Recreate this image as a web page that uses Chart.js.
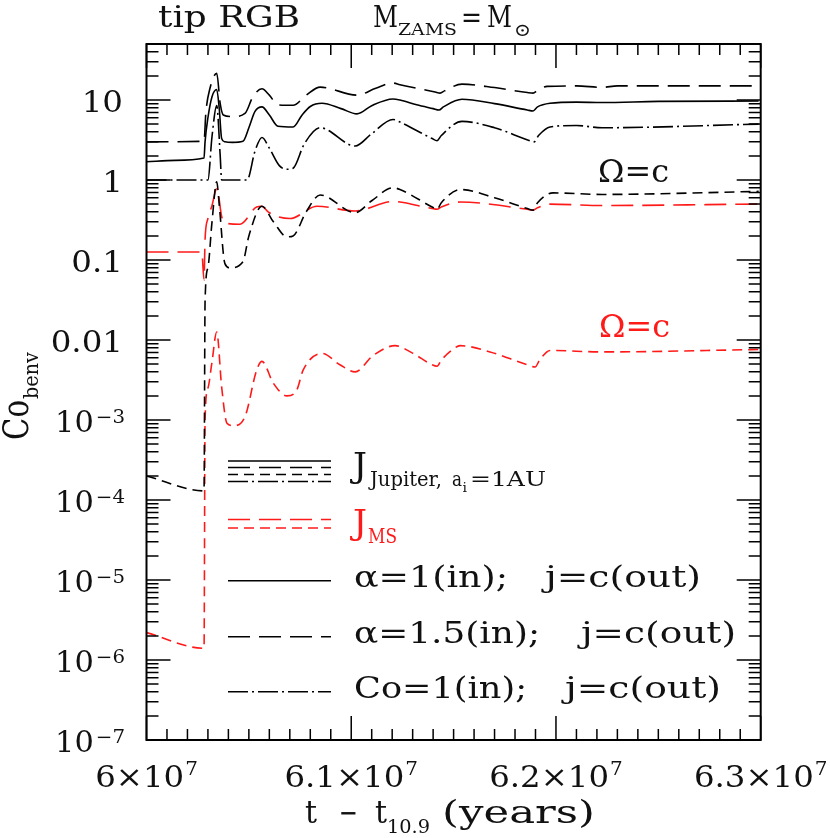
<!DOCTYPE html>
<html>
<head>
<meta charset="utf-8">
<script src="https://cdn.jsdelivr.net/npm/chart.js@4.4.1/dist/chart.umd.min.js"></script>
<style>
  html, body { margin: 0; padding: 0; background: #fff; }
  #wrap { width: 830px; height: 838px; }
</style>
</head>
<body>
<div id="wrap"><canvas id="chart" width="830" height="838"></canvas></div>
<script>
// axis ranges and tick labels
const X_MIN = 6.0e7, X_MAX = 6.3e7;
const Y_MIN = 1e-7, Y_MAX = Math.pow(10, 1.7);
const xTickValues = [6.0e7, 6.1e7, 6.2e7, 6.3e7];
const xTickLabels = ['6', '6.1', '6.2', '6.3'];
const yTickValues = [1e-7, 1e-6, 1e-5, 1e-4, 1e-3, 0.01, 0.1, 1, 10];
const yTickLabels = [['10', '\u22127'], ['10', '\u22126'], ['10', '\u22125'], ['10', '\u22124'], ['10', '\u22123'],
                     ['0.01', ''], ['0.1', ''], ['1', ''], ['10', '']];

// J_Jupiter, alpha=1 (solid)
const tJupA1 = [6.0000e7, 6.0140e7, 6.0281e7, 6.0286e7, 6.0300e7, 6.0320e7, 6.0343e7, 6.0355e7, 6.0367e7, 6.0383e7,
                6.0420e7, 6.0471e7, 6.0500e7, 6.0530e7, 6.0564e7, 6.0600e7, 6.0642e7, 6.0716e7, 6.0760e7, 6.0800e7,
                6.0857e7, 6.0950e7, 6.1028e7, 6.1100e7, 6.1204e7, 6.1238e7, 6.1320e7, 6.1400e7, 6.1429e7, 6.1450e7,
                6.1541e7, 6.1700e7, 6.1860e7, 6.1888e7, 6.1910e7, 6.1971e7, 6.2100e7, 6.2225e7, 6.2500e7, 6.2990e7];
const jupA1 = [1.69, 1.76, 1.88, 3.0, 6.0, 11.0, 13.5, 8.0, 3.3, 3.0,
               2.95, 3.05, 4.5, 7.2, 8.2, 6.5, 4.7, 4.6, 6.5, 8.3,
               9.1, 7.8, 6.7, 8.5, 10.3, 10.0, 8.7, 7.8, 7.5, 8.2,
               10.2, 9.0, 7.5, 7.3, 8.2, 9.1, 9.4, 9.3, 9.6, 9.7];

// J_Jupiter, alpha=1.5 (long dash)
const tJupA15 = [6.0000e7, 6.0281e7, 6.0290e7, 6.0310e7, 6.0343e7, 6.0360e7, 6.0375e7, 6.0420e7, 6.0481e7, 6.0520e7,
                 6.0564e7, 6.0600e7, 6.0642e7, 6.0716e7, 6.0780e7, 6.0848e7, 6.1028e7, 6.1120e7, 6.1204e7, 6.1238e7,
                 6.1410e7, 6.1434e7, 6.1455e7, 6.1541e7, 6.1700e7, 6.1860e7, 6.1888e7, 6.1910e7, 6.1957e7, 6.2100e7,
                 6.2225e7, 6.2300e7, 6.2990e7];
const jupA15 = [3.0, 3.05, 7.0, 14.0, 21.5, 9.0, 6.5, 6.2, 6.8, 11.0,
                13.8, 11.5, 8.7, 8.6, 11.5, 14.5, 11.5, 14.0, 16.3, 15.5,
                12.6, 12.2, 13.0, 15.8, 14.3, 12.4, 12.2, 13.2, 14.8, 15.0,
                14.4, 15.0, 15.0];

// J_Jupiter, Co=1 (dash-dot)
const tJupCo = [6.0000e7, 6.0300e7, 6.0320e7, 6.0343e7, 6.0360e7, 6.0367e7, 6.0491e7, 6.0530e7, 6.0564e7, 6.0600e7,
                6.0650e7, 6.0686e7, 6.0716e7, 6.0770e7, 6.0848e7, 6.1019e7, 6.1100e7, 6.1204e7, 6.1238e7, 6.1395e7,
                6.1419e7, 6.1440e7, 6.1541e7, 6.1700e7, 6.1865e7, 6.1893e7, 6.1915e7, 6.1971e7, 6.2100e7, 6.2225e7,
                6.2990e7];
const jupCo = [1.0, 1.0, 3.5, 8.5, 2.0, 1.0, 1.0, 2.3, 3.4, 2.5,
               1.5, 1.36, 1.4, 2.8, 4.5, 2.66, 3.8, 5.7, 5.3, 3.3,
               3.1, 3.6, 5.4, 4.5, 3.15, 3.0, 3.6, 4.6, 4.8, 4.5,
               5.0];

// J_Jupiter, Omega=c (short dash)
const tJupOmega = [6.0000e7, 6.0281e7, 6.0286e7, 6.0300e7, 6.0320e7, 6.0343e7, 6.0355e7, 6.0383e7, 6.0408e7, 6.0471e7,
                   6.0500e7, 6.0564e7, 6.0620e7, 6.0686e7, 6.0716e7, 6.0780e7, 6.0848e7, 6.1019e7, 6.1100e7, 6.1204e7,
                   6.1238e7, 6.1395e7, 6.1419e7, 6.1440e7, 6.1532e7, 6.1700e7, 6.1860e7, 6.1888e7, 6.1910e7, 6.1986e7,
                   6.2225e7, 6.2990e7];
const jupOmega = [2.0e-4, 1.3e-4, 0.03, 0.08, 0.3, 0.95, 0.5, 0.09, 0.08, 0.095,
                  0.2, 0.47, 0.3, 0.195, 0.2, 0.4, 0.65, 0.39, 0.55, 0.8,
                  0.76, 0.46, 0.43, 0.52, 0.76, 0.6, 0.44, 0.42, 0.52, 0.69,
                  0.66, 0.72];

// J_MS, alpha=1.5 (red long dash)
const tMsA15 = [6.0000e7, 6.0270e7, 6.0281e7, 6.0286e7, 6.0300e7, 6.0319e7, 6.0344e7, 6.0367e7, 6.0383e7, 6.0457e7,
                6.0538e7, 6.0563e7, 6.0594e7, 6.0638e7, 6.0701e7, 6.0833e7, 6.1019e7, 6.1204e7, 6.1238e7, 6.1395e7,
                6.1419e7, 6.1440e7, 6.1532e7, 6.1860e7, 6.1888e7, 6.1910e7, 6.1971e7, 6.2225e7, 6.2990e7];
const msA15 = [0.126, 0.126, 0.056, 0.18, 0.33, 0.47, 0.79, 0.35, 0.29, 0.28,
               0.46, 0.47, 0.40, 0.35, 0.33, 0.47, 0.41, 0.54, 0.53, 0.44,
               0.43, 0.46, 0.53, 0.43, 0.42, 0.45, 0.50, 0.48, 0.50];

// J_MS, Omega=c (red short dash)
const tMsOmega = [6.0000e7, 6.0281e7, 6.0286e7, 6.0300e7, 6.0319e7, 6.0343e7, 6.0367e7, 6.0393e7, 6.0423e7, 6.0481e7,
                  6.0538e7, 6.0564e7, 6.0619e7, 6.0686e7, 6.0735e7, 6.0765e7, 6.0857e7, 6.0945e7, 6.1019e7, 6.1107e7,
                  6.1214e7, 6.1302e7, 6.1395e7, 6.1419e7, 6.1440e7, 6.1492e7, 6.1532e7, 6.1678e7, 6.1870e7, 6.1898e7,
                  6.1920e7, 6.1971e7, 6.2225e7, 6.2990e7];
const msOmega = [2.2e-6, 1.4e-6, 1.0e-3, 2.5e-3, 5.1e-3, 0.0126, 2.6e-3, 9.1e-4, 8.5e-4, 1.1e-3,
                 4.2e-3, 5.4e-3, 2.9e-3, 2.0e-3, 2.4e-3, 4.2e-3, 6.8e-3, 4.9e-3, 4.0e-3, 6.4e-3,
                 8.5e-3, 6.8e-3, 4.9e-3, 4.7e-3, 5.6e-3, 7.5e-3, 8.5e-3, 7.1e-3, 4.8e-3, 4.6e-3,
                 5.6e-3, 7.4e-3, 7.1e-3, 7.6e-3];

const FONT = '"DejaVu Serif", serif';
const INK = '#111';
const RED = '#ff1a1a';
const DASH_LONG = [22, 9];
const DASH_SHORT = [10, 6];
const DASH_DOT = [20, 4, 2, 4];

function pts(ts, vs) {
    return ts.map((t, i) => ({ x: t, y: vs[i] }));
}

function curve(label, ts, vs, color, dash) {
    return {
        label: label,
        data: pts(ts, vs),
        borderColor: color,
        borderWidth: 1.6,
        borderDash: dash,
        pointRadius: 0,
        fill: false,
        cubicInterpolationMode: 'monotone'
    };
}

// draw a string at (x, y) baseline; width given -> squeeze/stretch to it
function txt(ctx, s, x, y, size, opt = {}) {
    ctx.font = `${size}px ${FONT}`;
    const w = ctx.measureText(s).width;
    const sx = opt.width ? opt.width / w : (opt.sx || 1);
    const ww = w * sx;
    let x0 = x;
    if (opt.align === 'right') x0 = x - ww;
    if (opt.align === 'center') x0 = x - ww / 2;
    ctx.save();
    ctx.fillStyle = opt.color || INK;
    ctx.textAlign = 'left';
    ctx.textBaseline = 'alphabetic';
    ctx.translate(x0, y);
    ctx.scale(sx, 1);
    ctx.fillText(s, 0, 0);
    ctx.restore();
    return ww;
}

function legendLine(ctx, y, color, dash) {
    ctx.save();
    ctx.strokeStyle = color;
    ctx.lineWidth = 1.6;
    ctx.setLineDash(dash);
    ctx.beginPath();
    ctx.moveTo(228, y);
    ctx.lineTo(331, y);
    ctx.stroke();
    ctx.restore();
}

const framePlugin = {
    id: 'framePlugin',
    afterDatasetsDraw(chart) {
        const { ctx, chartArea: a, scales: { x, y } } = chart;
        ctx.save();
        ctx.strokeStyle = '#000';
        ctx.setLineDash([]);

        // ticks (inside, all four sides)
        ctx.lineWidth = 1.5;
        ctx.beginPath();
        for (let i = 0; i <= 30; i++) {
            const px = x.getPixelForValue(X_MIN + i * 1e5);
            const len = i % 10 === 0 ? 24 : 11;
            ctx.moveTo(px, a.bottom); ctx.lineTo(px, a.bottom - len);
            ctx.moveTo(px, a.top); ctx.lineTo(px, a.top + len);
        }
        for (let d = -7; d <= 1; d++) {
            for (let m = 1; m <= 9; m++) {
                const v = m * Math.pow(10, d);
                if (v > Y_MAX) break;
                const py = y.getPixelForValue(v);
                const len = m === 1 ? 24 : 12;
                ctx.moveTo(a.left, py); ctx.lineTo(a.left + len, py);
                ctx.moveTo(a.right, py); ctx.lineTo(a.right - len, py);
            }
        }
        ctx.stroke();

        // box
        ctx.lineWidth = 2;
        ctx.strokeRect(a.left, a.top, a.right - a.left, a.bottom - a.top);
        ctx.restore();

        // y tick labels
        yTickValues.forEach((v, i) => {
            const py = y.getPixelForValue(v) + 12;
            const [base, exp] = yTickLabels[i];
            if (exp) {
                const we = txt(ctx, exp, 125, py - 9, 18, { align: 'right', sx: 1.1 });
                txt(ctx, base, 125 - we - 2, py, 29, { align: 'right', sx: 1.05 });
            } else {
                txt(ctx, base, 123, py, 29, { align: 'right', sx: 1.12 });
            }
        });

        // x tick labels
        xTickValues.forEach((v, i) => {
            const px = x.getPixelForValue(v);
            ctx.font = `30px ${FONT}`;
            const wb = ctx.measureText(xTickLabels[i] + '\u00d710').width * 1.08;
            ctx.font = `19px ${FONT}`;
            const we = ctx.measureText('7').width * 1.05;
            const x0 = px - (wb + we + 1) / 2;
            txt(ctx, xTickLabels[i] + '\u00d710', x0, 787, 30, { sx: 1.08 });
            txt(ctx, '7', x0 + wb + 1, 775, 19, { sx: 1.05 });
        });

        // axis titles
        txt(ctx, 't', 305, 823, 31, { width: 12 });
        txt(ctx, '\u2212', 339, 823, 31, { width: 19 });
        txt(ctx, 't', 375, 823, 31, { width: 12 });
        txt(ctx, '10.9', 387, 833, 19, { width: 43 });
        txt(ctx, '(years)', 442, 823, 31, { width: 153 });

        ctx.save();
        ctx.translate(28, 440);
        ctx.rotate(-Math.PI / 2);
        txt(ctx, 'Co', 0, 0, 35, { width: 40 });
        txt(ctx, 'benv', 41, 10, 21, { width: 47 });
        ctx.restore();

        // top labels
        txt(ctx, 'tip RGB', 158, 27, 29, { width: 142 });
        txt(ctx, 'M', 373, 27, 30, { width: 25 });
        txt(ctx, 'ZAMS', 398, 35, 17, { width: 59 });
        txt(ctx, '=', 461, 27, 29, { width: 21 });
        txt(ctx, 'M', 487, 27, 30, { width: 25 });
        txt(ctx, '\u2299', 514, 36, 18, { width: 17 });

        // Omega = c annotations
        txt(ctx, '\u03a9=c', 598, 182, 32, { width: 71 });
        txt(ctx, '\u03a9=c', 599, 337, 32, { width: 71, color: RED });

        // legend: J_Jupiter
        legendLine(ctx, 461, '#000', []);
        legendLine(ctx, 467.5, '#000', DASH_LONG);
        legendLine(ctx, 474.5, '#000', DASH_SHORT);
        legendLine(ctx, 481.5, '#000', DASH_DOT);
        txt(ctx, 'J', 353, 477, 34, { width: 14 });
        txt(ctx, 'Jupiter,', 370, 486, 21, { width: 72 });
        txt(ctx, 'a', 452, 486, 21, { width: 10 });
        txt(ctx, 'i', 462.5, 492, 13, { width: 4.5 });
        txt(ctx, '=1AU', 470, 486, 21, { width: 76 });

        // legend: J_MS
        legendLine(ctx, 519.5, RED, DASH_LONG);
        legendLine(ctx, 528, RED, DASH_SHORT);
        txt(ctx, 'J', 353, 534, 34, { width: 14, color: RED });
        txt(ctx, 'MS', 368, 543, 21, { width: 29, color: RED });

        // legend: line styles
        legendLine(ctx, 580.7, '#000', []);
        legendLine(ctx, 636.7, '#000', DASH_LONG);
        legendLine(ctx, 691.7, '#000', DASH_DOT);
        txt(ctx, '\u03b1=1(in);', 354, 587, 29, { width: 154 });
        txt(ctx, 'j=c(out)', 545, 587, 29, { width: 156 });
        txt(ctx, '\u03b1=1.5(in);', 354, 643, 29, { width: 186 });
        txt(ctx, 'j=c(out)', 581, 643, 29, { width: 155 });
        txt(ctx, 'Co=1(in);', 354, 698, 29, { width: 173 });
        txt(ctx, 'j=c(out)', 565, 698, 29, { width: 156 });
    }
};

const ctx = document.getElementById('chart').getContext('2d');
new Chart(ctx, {
    type: 'line',
    data: {
        datasets: [
            curve('alpha=1 Jupiter', tJupA1, jupA1, '#000', []),
            curve('alpha=1.5 Jupiter', tJupA15, jupA15, '#000', DASH_LONG),
            curve('Co=1 Jupiter', tJupCo, jupCo, '#000', DASH_DOT),
            curve('Omega=c Jupiter', tJupOmega, jupOmega, '#000', DASH_SHORT),
            curve('alpha=1.5 MS', tMsA15, msA15, RED, DASH_LONG),
            curve('Omega=c MS', tMsOmega, msOmega, RED, DASH_SHORT)
        ]
    },
    options: {
        responsive: false,
        animation: false,
        layout: { padding: { left: 146.5, right: 69.3, top: 44, bottom: 98 } },
        plugins: { legend: { display: false }, tooltip: { enabled: false } },
        scales: {
            x: { type: 'linear', min: X_MIN, max: X_MAX, display: false },
            y: { type: 'logarithmic', min: Y_MIN, max: Y_MAX, display: false }
        }
    },
    plugins: [framePlugin]
});
</script>
</body>
</html>
